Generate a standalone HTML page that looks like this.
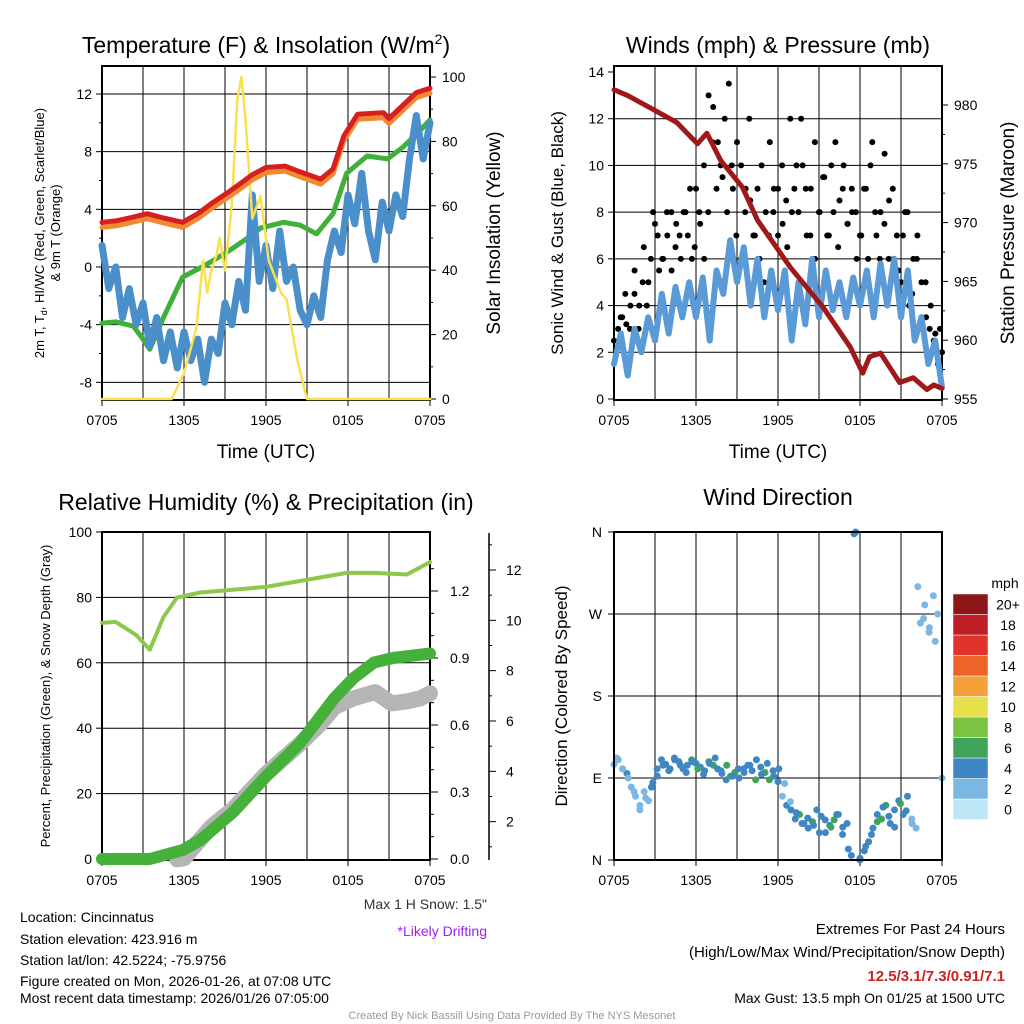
<!DOCTYPE html>
<html><head><meta charset="utf-8"><style>
body{margin:0;background:#fff}
svg{display:block;font-family:"Liberation Sans",Arial,sans-serif}
</style></head><body>
<svg id="c" width="1024" height="1024" viewBox="0 0 1024 1024">
<rect width="1024" height="1024" fill="#fff"/>
<text x="266" y="53" font-size="23" text-anchor="middle">Temperature (F) &amp; Insolation (W/m<tspan dy="-9" font-size="14">2</tspan><tspan dy="9">)</tspan></text>
<text x="778" y="53" font-size="23" text-anchor="middle">Winds (mph) &amp; Pressure (mb)</text>
<text x="266" y="510" font-size="23" text-anchor="middle">Relative Humidity (%) &amp; Precipitation (in)</text>
<text x="778" y="505" font-size="23" text-anchor="middle">Wind Direction</text>
<text transform="translate(44,233) rotate(-90)" font-size="13" text-anchor="middle">2m T, T<tspan font-size="9" dy="3">d</tspan><tspan dy="-3">, HI/WC (Red, Green, Scarlet/Blue)</tspan></text>
<text transform="translate(60,233) rotate(-90)" font-size="13" text-anchor="middle">&amp; 9m T (Orange)</text>
<text transform="translate(500,233) rotate(-90)" font-size="19" text-anchor="middle">Solar Insolation (Yellow)</text>
<text x="266" y="458" font-size="19" text-anchor="middle">Time (UTC)</text>
<text transform="translate(563,233) rotate(-90)" font-size="17" text-anchor="middle">Sonic Wind &amp; Gust (Blue, Black)</text>
<text transform="translate(1014,233) rotate(-90)" font-size="19" text-anchor="middle">Station Pressure (Maroon)</text>
<text x="778" y="458" font-size="19" text-anchor="middle">Time (UTC)</text>
<text transform="translate(50,696) rotate(-90)" font-size="13" text-anchor="middle">Percent, Precipitation (Green), &amp; Snow Depth (Gray)</text>
<text transform="translate(567,696) rotate(-90)" font-size="17" text-anchor="middle">Direction (Colored By Speed)</text>
<g font-size="14">
<text x="20" y="922">Location: Cincinnatus</text>
<text x="20" y="944">Station elevation: 423.916 m</text>
<text x="20" y="965">Station lat/lon: 42.5224; -75.9756</text>
<text x="20" y="986">Figure created on Mon, 2026-01-26, at 07:08 UTC</text>
<text x="20" y="1003">Most recent data timestamp: 2026/01/26 07:05:00</text>
<text x="487" y="909" text-anchor="end" fill="#333">Max 1 H Snow: 1.5"</text>
<text x="487" y="936" text-anchor="end" fill="#a020f0">*Likely Drifting</text>
<text x="1005" y="934" text-anchor="end" font-size="15">Extremes For Past 24 Hours</text>
<text x="1005" y="957" text-anchor="end" font-size="15">(High/Low/Max Wind/Precipitation/Snow Depth)</text>
<text x="1005" y="981" text-anchor="end" font-size="15" font-weight="bold" fill="#cc2222">12.5/3.1/7.3/0.91/7.1</text>
<text x="1005" y="1003" text-anchor="end" font-size="14">Max Gust: 13.5 mph On 01/25 at 1500 UTC</text>
<text x="512" y="1019" text-anchor="middle" font-size="11" fill="#999">Created By Nick Bassill Using Data Provided By The NYS Mesonet</text>
</g>
<g id="plots"></g>
</svg>
<script>
// ---------- data ----------
const timeLabels = ["0705","1305","1905","0105","0705"];
const tempT = [0,1,2,3.3,4.5,5.9,7,8,9.1,10,11,12,13.4,14.5,16,16.9,17.7,18.7,20.6,21,22,23,24];
const tempRed = [3.1,3.2,3.4,3.7,3.4,3.1,3.7,4.4,5.1,5.7,6.4,6.9,7,6.6,6.1,6.8,9.1,10.6,10.7,10.3,11.2,12.1,12.4];
const tempOrange = [2.75,2.85,3.05,3.35,3.05,2.75,3.35,4.05,4.75,5.35,6.05,6.55,6.65,6.25,5.75,6.45,8.75,10.25,10.35,9.95,10.85,11.75,12.05];
const dewT = [0,1,2.3,3,3.5,4.5,5.9,7.5,9.1,10.5,11.6,13.3,14.5,15.7,16.9,17.9,19.4,20.9,22,23,24];
const dewGreen = [-3.9,-3.8,-4.1,-5,-5.7,-3.5,-0.7,0.1,1,1.9,2.7,3.1,2.9,2.3,3.7,6.5,7.7,7.5,8.3,9.2,10.2];
const wcBlue = [1.5,-1.5,0,-3.5,-1.5,-4,-2.5,-5.5,-3.5,-6.5,-4.5,-7,-4.5,-6.5,-5,-8,-5,-6,-2.5,-4,-1,-3,5,-1,1.5,-1.5,2.5,-1,0,-3,-4,-2,-3.5,0.5,2.5,1,5,3,6.5,2.5,0.5,4.5,2.5,5,3.5,7.5,10.5,7.5,10];
const solT = [0,5.1,6,6.9,7.4,7.7,8,8.4,8.6,9,9.5,9.9,10.2,10.5,11,11.6,12.2,13.1,13.5,14.3,15,24];
const solar = [0,0,8,22,43,33,40,45,50,40,60,93,100,87,56,63,43,33,31,12,0,0];
const presT = [0,1,2.6,4.6,6.1,6.8,7.8,9.4,10.5,12.9,15.3,17.3,18.2,18.7,19.5,20.9,21.9,22.9,23.4,24];
const pressure = [981.3,980.8,979.8,978.5,976.7,977.6,975.3,973,970.2,966.2,962.8,959.4,957.2,958.6,958.9,956.4,956.8,955.8,956.2,955.9];
const windSpd = [1.5,2.8,1,3,2,3.5,2.5,4.5,2.8,4.8,3.5,5,3.5,5.2,2.5,5.5,4.5,6.8,5,6.5,4,6,3.5,5.5,3.8,5.5,2.5,5,3.2,6,3.5,5.5,3.8,5,3.5,5.2,4,5.5,3.5,5.8,4,6,3.5,5.5,2.5,3.5,1.5,2.5,0.5];
const gusts = [2.5,3,3.5,3.2,4,4.5,3,5,4,6,7.5,5.5,6,7,8,6.5,7,8,7,6,9,7.5,6,8,11,9,10,12,13.5,9,11,10,8,12,7,9,10,8,11,9,7,10,8.5,12,9,8,10,7,9,11,8,9.5,7,10,11,8.5,10,7.5,9,8,7,9,6,11,7,8,10.5,6,9,7,5,8,4,6,7,3.5,5,3,2.5,1.5,2];
const gusts2 = [2,3.5,4.5,3,5.5,4,6.5,5,8,7,6,8,5.5,7.5,6,8,9,6.5,8,10,13,12.5,11,9.5,8,10,7,6,9,8.5,7,6,5,7,8,9,7.5,6.5,8,10,12,9,7,6,8,9.5,7,8,6.5,9,7.5,8,6,7,9,10,8,6,7.5,8.5,6,5.5,7,8,4.5,6,5,3.5,4,2.8,3];
const rhT = [0,1,2.5,3.5,4.5,5.5,7.2,12,17.9,20,22.3,24];
const rh = [72.2,72.5,68.5,64,74,80,81.5,83.2,87.5,87.5,87,90.8];
const precT = [0,3.5,5.9,7.2,9.6,12,14.5,17,18.4,19.9,21.3,24];
const precip = [0,0,0.04,0.085,0.21,0.37,0.52,0.72,0.81,0.88,0.9,0.92];
const snowT = [5.5,6,7.2,8,9.6,12,14.5,16,17,18.4,20,21.2,22.5,23.3,24];
const snow = [0.5,0.55,1.3,1.8,2.5,3.9,5.1,5.9,6.55,6.9,7.15,6.7,6.8,6.9,7.1];
const wdir = [105,110,100,95,80,70,60,75,65,85,100,110,105,100,112,108,100,104,110,106,102,98,108,104,100,95,88,92,96,90,100,104,98,110,102,96,88,92,86,70,60,55,45,50,40,35,42,55,48,30,38,44,50,36,40,5,360,2,10,20,35,50,45,60,40,55,65,50,70,45,35,260,280,250,290,270,90];
const wspd = [2,1,2,3,2,1,2,2,1,3,4,3,4,3,4,4,3,4,5,4,3,4,5,6,4,3,4,6,5,4,4,3,4,4,3,5,6,4,3,2,3,4,3,5,4,3,5,4,3,4,4,5,3,4,3,3,4,4,3,3,4,4,5,6,4,3,4,3,4,2,2,1,1,1,2,2,1];
const wdir2 = [112,100,90,75,55,68,80,92,104,98,110,104,96,108,100,94,106,112,98,104,92,100,96,104,88,94,106,98,100,84,64,52,40,46,38,30,44,36,50,28,12,358,0,15,28,42,58,48,36,62,54,40,300,265,255,240];
const wspd2 = [2,2,1,1,2,2,3,4,4,3,4,4,3,4,5,4,4,4,3,6,4,3,4,4,6,3,4,4,3,2,2,3,4,4,3,4,4,5,4,3,4,3,4,4,3,6,4,3,4,5,3,2,1,1,2,1];
const speedBins = ["0","2","4","6","8","10","12","14","16","18","20+"];
const binColors = ["#bfe6f7","#7ab8e3","#3f87c4","#3fa35a","#7cc243","#e6e04a","#f4a13a","#ee6328","#e0342a","#c01e25","#8e1518"];

// ---------- helpers ----------
const NS="http://www.w3.org/2000/svg";
const root=document.getElementById('plots');
function mk(tag,attrs,parent){const e=document.createElementNS(NS,tag);for(const k in attrs)e.setAttribute(k,attrs[k]);(parent||root).appendChild(e);return e;}
function lin(d0,d1,r0,r1){return v=>r0+(v-d0)/(d1-d0)*(r1-r0);}
function txt(x,y,s,anchor,size,parent){const t=mk('text',{x:x,y:y,'text-anchor':anchor||'middle','font-size':size||14},parent);t.textContent=s;return t;}
function line(xs,ys,X,Y,color,w,name){const d=xs.map((t,i)=>(i?'L':'M')+X(t).toFixed(1)+','+Y(ys[i]).toFixed(1)).join('');const p=mk('path',{d:d,fill:'none',stroke:color,'stroke-width':w,'stroke-linejoin':'round','stroke-linecap':'round'});


return p;}
function frame(name){
  const g=mk('g',{});
  
  
  return g;}
function xAxis(g,x0,x1,y0,y1){
  const X=lin(0,24,x0,x1);
  for(let h=3;h<24;h+=3){const x=X(h);mk('line',{x1:x,x2:x,y1:y0,y2:y1,stroke:'#000','stroke-width':1},g);}
  timeLabels.forEach((l,i)=>{const x=X(i*6);
    mk('line',{x1:x,x2:x,y1:y1,y2:y1+6,stroke:'#000'},g);
    txt(x,y1+25,l,'middle',14,g);});
  return X;}
function dots(ts,vs,X,Y,r,colorFn,name,g){
  vs.forEach((v,i)=>{const c=mk('circle',{cx:X(ts(i)),cy:Y(v),r:r,fill:colorFn(i)},g);
    
    });}

// ---------- panel 1 ----------
(function(){
  const x0=102,x1=430,y0=66,y1=400;
  const g=frame('temperature-panel');
  const X=xAxis(g,x0,x1,y0,y1);
  const Y=lin(0,12,267,94), Y2=lin(0,100,399,77);
  [-8,-4,0,4,8,12].forEach(v=>{const y=Y(v);mk('line',{x1:x0,x2:x1,y1:y,y2:y,stroke:'#000','stroke-width':1},g);mk('line',{x1:x0-6,x2:x0,y1:y,y2:y,stroke:'#000'},g);txt(x0-10,y+5,String(v),'end',14,g);});
  [-6,-2,2,6,10].forEach(v=>{mk('line',{x1:x0-3,x2:x0,y1:Y(v),y2:Y(v),stroke:'#000'},g);});
  [0,20,40,60,80,100].forEach(v=>{const y=Y2(v);mk('line',{x1:x1,x2:x1+6,y1:y,y2:y,stroke:'#000'},g);txt(x1+12,y+5,String(v),'start',14,g);});
  [10,30,50,70,90].forEach(v=>{mk('line',{x1:x1,x2:x1+3,y1:Y2(v),y2:Y2(v),stroke:'#000'},g);});
  line(dewT,dewGreen,X,Y,'#3fb03a',5,'dewpoint-line');
  line(wcBlue.map((v,i)=>i*0.5),wcBlue,X,Y,'#4a8fc9',7,'windchill-line');
  line(solT,solar,X,Y2,'#f8e050',2.5,'insolation-line');
  line(tempT,tempOrange,X,Y,'#f08a30',5,'temp-9m-line');
  line(tempT,tempRed,X,Y,'#d62020',5,'temp-2m-line');
  mk('rect',{x:x0,y:y0,width:x1-x0,height:y1-y0,fill:'none',stroke:'#000','stroke-width':2},g);
})();

// ---------- panel 2 ----------
(function(){
  const x0=614,x1=942,y0=66,y1=400;
  const g=frame('wind-panel');
  const X=xAxis(g,x0,x1,y0,y1);
  const Y=lin(0,14,399,72), Y2=lin(955,980,399,105);
  [0,2,4,6,8,10,12,14].forEach(v=>{const y=Y(v);if(v>0&&v<14)mk('line',{x1:x0,x2:x1,y1:y,y2:y,stroke:'#000'},g);mk('line',{x1:x0-6,x2:x0,y1:y,y2:y,stroke:'#000'},g);txt(x0-10,y+5,String(v),'end',14,g);});
  [955,960,965,970,975,980].forEach(v=>{const y=Y2(v);mk('line',{x1:x1,x2:x1+6,y1:y,y2:y,stroke:'#000'},g);txt(x1+12,y+5,String(v),'start',14,g);});
  [957.5,962.5,967.5,972.5,977.5].forEach(v=>{mk('line',{x1:x1,x2:x1+3,y1:Y2(v),y2:Y2(v),stroke:'#000'},g);});
  line(windSpd.map((v,i)=>i*0.5),windSpd,X,Y,'#5a9ad6',6,'wind-speed-line');
  dots(i=>i*24/(gusts.length-1),gusts,X,Y,3,()=>'#000','gust-point',g);
  dots(i=>0.15+i*23.7/(gusts2.length-1),gusts2,X,Y,3,()=>'#000','gust-point',g);
  line(presT,pressure,X,Y2,'#a01818',5,'pressure-line');
  mk('rect',{x:x0,y:y0,width:x1-x0,height:y1-y0,fill:'none',stroke:'#000','stroke-width':2},g);
})();

// ---------- panel 3 ----------
(function(){
  const x0=102,x1=430,y0=532,y1=860;
  const g=frame('humidity-panel');
  const X=xAxis(g,x0,x1,y0,y1);
  const Y=lin(0,100,859,532), Y2=lin(0,1.2,859,591), Y3=lin(0,12,872,570);
  [0,20,40,60,80,100].forEach(v=>{const y=Y(v);if(v>0&&v<100)mk('line',{x1:x0,x2:x1,y1:y,y2:y,stroke:'#000'},g);mk('line',{x1:x0-6,x2:x0,y1:y,y2:y,stroke:'#000'},g);txt(x0-10,y+5,String(v),'end',14,g);});
  [0,0.3,0.6,0.9,1.2].forEach(v=>{const y=Y2(v);mk('line',{x1:x1,x2:x1+8,y1:y,y2:y,stroke:'#000'},g);txt(x1+20,y+5,v.toFixed(1),'start',14,g);});
  [0.1,0.2,0.4,0.5,0.7,0.8,1.0,1.1,1.3].forEach(v=>{mk('line',{x1:x1,x2:x1+4,y1:Y2(v),y2:Y2(v),stroke:'#000'},g);});
  mk('line',{x1:489,x2:489,y1:533,y2:860,stroke:'#000','stroke-width':1.5},g);
  for(let v=1;v<=13;v++){const y=Y3(v);mk('line',{x1:489,x2:489+(v%2?3:7),y1:y,y2:y,stroke:'#000'},g);if(v%2==0)txt(506,y+5,String(v),'start',14,g);}
  line(snowT,snow,X,Y3,'#b5b5b5',16,'snow-depth-line');
  line(precT,precip,X,Y2,'#45b03a',12,'precip-line');
  line(rhT,rh,X,Y,'#8cc84b',4,'rh-line');
  mk('circle',{cx:420,cy:697,r:2.5,fill:'#a020f0'},g);
  mk('rect',{x:x0,y:y0,width:x1-x0,height:y1-y0,fill:'none',stroke:'#000','stroke-width':2},g);
})();

// ---------- panel 4 ----------
(function(){
  const x0=614,x1=942,y0=532,y1=860;
  const g=frame('direction-panel');
  const X=xAxis(g,x0,x1,y0,y1);
  const Y=lin(0,360,860,532);
  ["N","E","S","W","N"].forEach((l,i)=>{const y=Y(i*90);if(i>0&&i<4)mk('line',{x1:x0,x2:x1,y1:y,y2:y,stroke:'#000'},g);mk('line',{x1:x0-6,x2:x0,y1:y,y2:y,stroke:'#000'},g);txt(x0-12,y+5,l,'end',14,g);});
  const col=s=>binColors[Math.min(10,Math.max(0,Math.round(s/2)))];
  dots(i=>i*24/(wdir.length-1),wdir,X,Y,3.5,i=>col(wspd[i]),'direction-point',g);
  dots(i=>0.2+i*23.3/(wdir2.length-1),wdir2,X,Y,3.5,i=>col(wspd2[i]),'direction-point',g);
  mk('rect',{x:x0,y:y0,width:x1-x0,height:y1-y0,fill:'none',stroke:'#000','stroke-width':2},g);
  // colorbar
  const cb=mk('g',{},root);
  
  
  txt(1005,588,'mph','middle',14,cb);
  const h=20.5, top=594;
  for(let i=0;i<11;i++){const y=top+(10-i)*h;
    mk('rect',{x:953,y:y,width:35,height:h,fill:binColors[i],stroke:'#fff','stroke-width':0.5},cb);
    txt(1008,y+h/2+5,speedBins[i],'middle',14,cb);}
})();
</script>
</body></html>
